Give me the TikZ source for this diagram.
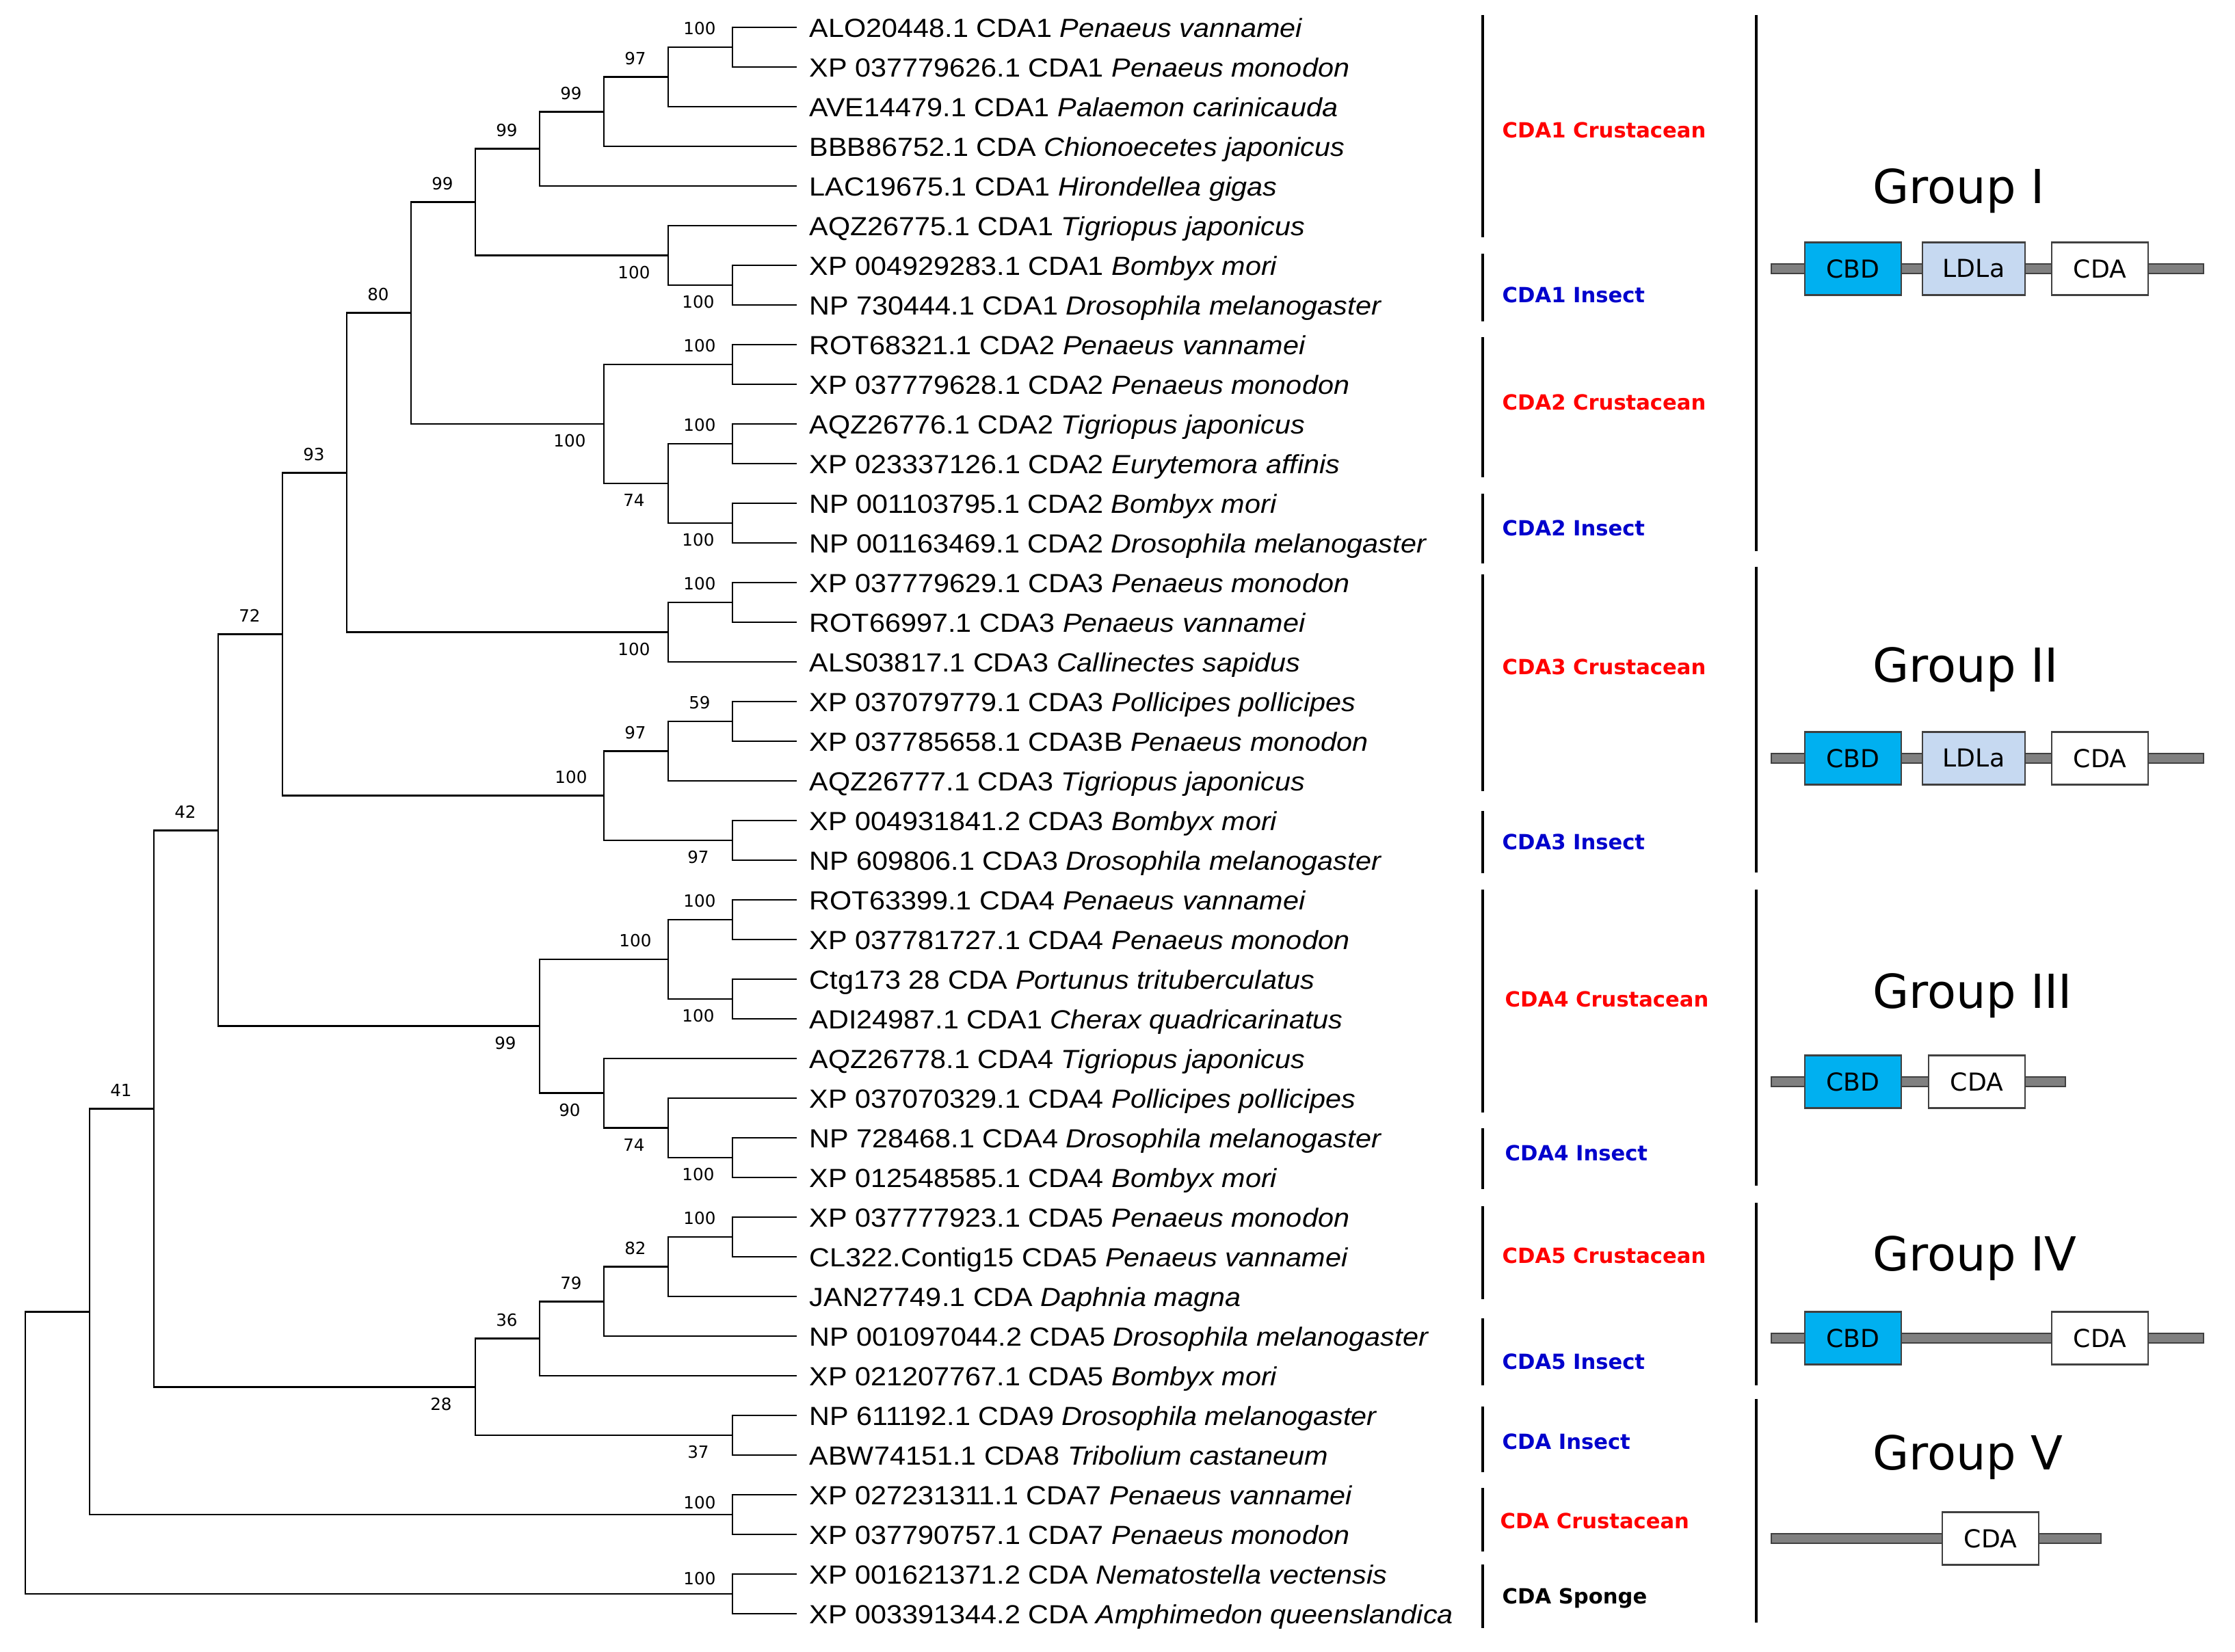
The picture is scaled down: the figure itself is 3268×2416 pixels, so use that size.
\documentclass[tikz,border=0pt]{standalone}
\usepackage{fontspec}
\setmainfont{DejaVu Sans}
\newfontfamily\leaffont[FakeStretch=1.08]{Liberation Sans}
\definecolor{cladered}{RGB}{255,0,0}
\definecolor{cladeblue}{RGB}{0,0,204}
\definecolor{cbdblue}{RGB}{0,176,240}
\definecolor{ldlablue}{RGB}{198,217,241}
\definecolor{bargray}{RGB}{128,128,128}
\definecolor{edgegray}{RGB}{64,64,64}
\tikzset{
  leaf/.style={anchor=west, inner xsep=0.18cm, inner ysep=0pt, text height=8.4pt, text depth=0pt, font=\leaffont\fontsize{10.9}{12}\selectfont},
  bsup/.style={font=\fontsize{7}{8}\selectfont, inner sep=0pt, xshift=-0.48cm, yshift=0.27cm},
  bsdown/.style={font=\fontsize{7}{8}\selectfont, inner sep=0pt, xshift=-0.50cm, yshift=-0.25cm},
  clade/.style={anchor=west, inner sep=0pt, font=\bfseries\fontsize{8.7}{10}\selectfont},
  grouplabel/.style={anchor=west, inner sep=0pt, font=\fontsize{19.5}{22}\selectfont},
  dom/.style={draw=edgegray, line width=0.8pt, minimum height=0.77cm, inner sep=0pt, font=\fontsize{10.3}{12}\selectfont},
  domline/.style={draw=edgegray, fill=bargray, line width=0.7pt},
  branch/.style={line width=0.8pt},
  bracket/.style={line width=1pt}
}
\begin{document}
\begin{tikzpicture}[x=0.01cm, y=-0.01cm]
  \useasboundingbox (0,0) rectangle (3268,2416);
  % leaves
  \foreach \i/\acc/\sp in {
      0/{ALO20448.1 CDA1}/{Penaeus vannamei},
      1/{XP 037779626.1 CDA1}/{Penaeus monodon},
      2/{AVE14479.1 CDA1}/{Palaemon carinicauda},
      3/{BBB86752.1 CDA}/{Chionoecetes japonicus},
      4/{LAC19675.1 CDA1}/{Hirondellea gigas},
      5/{AQZ26775.1 CDA1}/{Tigriopus japonicus},
      6/{XP 004929283.1 CDA1}/{Bombyx mori},
      7/{NP 730444.1 CDA1}/{Drosophila melanogaster},
      8/{ROT68321.1 CDA2}/{Penaeus vannamei},
      9/{XP 037779628.1 CDA2}/{Penaeus monodon},
      10/{AQZ26776.1 CDA2}/{Tigriopus japonicus},
      11/{XP 023337126.1 CDA2}/{Eurytemora affinis},
      12/{NP 001103795.1 CDA2}/{Bombyx mori},
      13/{NP 001163469.1 CDA2}/{Drosophila melanogaster},
      14/{XP 037779629.1 CDA3}/{Penaeus monodon},
      15/{ROT66997.1 CDA3}/{Penaeus vannamei},
      16/{ALS03817.1 CDA3}/{Callinectes sapidus},
      17/{XP 037079779.1 CDA3}/{Pollicipes pollicipes},
      18/{XP 037785658.1 CDA3B}/{Penaeus monodon},
      19/{AQZ26777.1 CDA3}/{Tigriopus japonicus},
      20/{XP 004931841.2 CDA3}/{Bombyx mori},
      21/{NP 609806.1 CDA3}/{Drosophila melanogaster},
      22/{ROT63399.1 CDA4}/{Penaeus vannamei},
      23/{XP 037781727.1 CDA4}/{Penaeus monodon},
      24/{Ctg173 28 CDA}/{Portunus trituberculatus},
      25/{ADI24987.1 CDA1}/{Cherax quadricarinatus},
      26/{AQZ26778.1 CDA4}/{Tigriopus japonicus},
      27/{XP 037070329.1 CDA4}/{Pollicipes pollicipes},
      28/{NP 728468.1 CDA4}/{Drosophila melanogaster},
      29/{XP 012548585.1 CDA4}/{Bombyx mori},
      30/{XP 037777923.1 CDA5}/{Penaeus monodon},
      31/{CL322.Contig15 CDA5}/{Penaeus vannamei},
      32/{JAN27749.1 CDA}/{Daphnia magna},
      33/{NP 001097044.2 CDA5}/{Drosophila melanogaster},
      34/{XP 021207767.1 CDA5}/{Bombyx mori},
      35/{NP 611192.1 CDA9}/{Drosophila melanogaster},
      36/{ABW74151.1 CDA8}/{Tribolium castaneum},
      37/{XP 027231311.1 CDA7}/{Penaeus vannamei},
      38/{XP 037790757.1 CDA7}/{Penaeus monodon},
      39/{XP 001621371.2 CDA}/{Nematostella vectensis},
      40/{XP 003391344.2 CDA}/{Amphimedon queenslandica}}
    \node[leaf] (l\i) at (1165,{40+58*\i}) {\acc{} \textit{\sp}};

  % inner nodes
  \coordinate (a1) at (1071,69);    \coordinate (a2) at (977,112.5);
  \coordinate (a3) at (883,163.3);  \coordinate (a4) at (789,217.6);
  \coordinate (a5) at (1071,417);   \coordinate (a6) at (977,373.5);
  \coordinate (a7) at (695,295.6);
  \coordinate (b1) at (1071,533);   \coordinate (b2) at (1071,649);
  \coordinate (b3) at (1071,765);   \coordinate (b4) at (977,707);
  \coordinate (b5) at (883,620);    \coordinate (c80) at (601,457.8);
  \coordinate (d1) at (1071,881);   \coordinate (d2) at (977,924.5);
  \coordinate (c93) at (507,691.2);
  \coordinate (d3) at (1071,1055);  \coordinate (d4) at (977,1098.5);
  \coordinate (d5) at (1071,1229);  \coordinate (d6) at (883,1163.8);
  \coordinate (c72) at (413,927.5);
  \coordinate (e1) at (1071,1345);  \coordinate (e2) at (1071,1461);
  \coordinate (e3) at (977,1403);   \coordinate (e4) at (1071,1693);
  \coordinate (e5) at (977,1649.5); \coordinate (e6) at (883,1598.8);
  \coordinate (e7) at (789,1500.9); \coordinate (c42) at (319,1214.2);
  \coordinate (f1) at (1071,1809);  \coordinate (f2) at (977,1852.5);
  \coordinate (f3) at (883,1903.3); \coordinate (f4) at (789,1957.6);
  \coordinate (f5) at (1071,2099);  \coordinate (f6) at (695,2028.3);
  \coordinate (c41) at (225,1621.3);
  \coordinate (g1) at (1071,2215);  \coordinate (c1) at (131,1918.2);
  \coordinate (h1) at (1071,2331);  \coordinate (root) at (37,2124.6);

  % branches
  \draw[branch] (l0.west) -| (a1) |- (l1.west);
  \draw[branch] (a1) -| (a2) |- (l2.west);
  \draw[branch] (a2) -| (a3) |- (l3.west);
  \draw[branch] (a3) -| (a4) |- (l4.west);
  \draw[branch] (l6.west) -| (a5) |- (l7.west);
  \draw[branch] (l5.west) -| (a6) |- (a5);
  \draw[branch] (a4) -| (a7) |- (a6);
  \draw[branch] (l8.west) -| (b1) |- (l9.west);
  \draw[branch] (l10.west) -| (b2) |- (l11.west);
  \draw[branch] (l12.west) -| (b3) |- (l13.west);
  \draw[branch] (b2) -| (b4) |- (b3);
  \draw[branch] (b1) -| (b5) |- (b4);
  \draw[branch] (a7) -| (c80) |- (b5);
  \draw[branch] (l14.west) -| (d1) |- (l15.west);
  \draw[branch] (d1) -| (d2) |- (l16.west);
  \draw[branch] (c80) -| (c93) |- (d2);
  \draw[branch] (l17.west) -| (d3) |- (l18.west);
  \draw[branch] (d3) -| (d4) |- (l19.west);
  \draw[branch] (l20.west) -| (d5) |- (l21.west);
  \draw[branch] (d4) -| (d6) |- (d5);
  \draw[branch] (c93) -| (c72) |- (d6);
  \draw[branch] (l22.west) -| (e1) |- (l23.west);
  \draw[branch] (l24.west) -| (e2) |- (l25.west);
  \draw[branch] (e1) -| (e3) |- (e2);
  \draw[branch] (l28.west) -| (e4) |- (l29.west);
  \draw[branch] (l27.west) -| (e5) |- (e4);
  \draw[branch] (l26.west) -| (e6) |- (e5);
  \draw[branch] (e3) -| (e7) |- (e6);
  \draw[branch] (c72) -| (c42) |- (e7);
  \draw[branch] (l30.west) -| (f1) |- (l31.west);
  \draw[branch] (f1) -| (f2) |- (l32.west);
  \draw[branch] (f2) -| (f3) |- (l33.west);
  \draw[branch] (f3) -| (f4) |- (l34.west);
  \draw[branch] (l35.west) -| (f5) |- (l36.west);
  \draw[branch] (f4) -| (f6) |- (f5);
  \draw[branch] (c42) -| (c41) |- (f6);
  \draw[branch] (l37.west) -| (g1) |- (l38.west);
  \draw[branch] (c41) -| (c1) |- (g1);
  \draw[branch] (l39.west) -| (h1) |- (l40.west);
  \draw[branch] (c1) -| (root) |- (h1);

  % bootstrap values
  \node[bsup] (s1) at (a1) {100};   \node[bsup] (s2) at (a2) {97};
  \node[bsup] (s3) at (a3) {99};    \node[bsup] (s4) at (a4) {99};
  \node[bsdown] (s5) at (a5) {100}; \node[bsdown] (s6) at (a6) {100};
  \node[bsup] (s7) at (a7) {99};
  \node[bsup] (s8) at (b1) {100};   \node[bsup] (s9) at (b2) {100};
  \node[bsdown] (s10) at (b3) {100}; \node[bsdown] (s11) at (b4) {74};
  \node[bsdown] (s12) at (b5) {100}; \node[bsup] (s13) at (c80) {80};
  \node[bsup] (s14) at (d1) {100};  \node[bsdown] (s15) at (d2) {100};
  \node[bsup] (s16) at (c93) {93};
  \node[bsup] (s17) at (d3) {59};   \node[bsup] (s18) at (d4) {97};
  \node[bsdown] (s19) at (d5) {97}; \node[bsup] (s20) at (d6) {100};
  \node[bsup] (s21) at (c72) {72};
  \node[bsup] (s22) at (e1) {100};  \node[bsdown] (s23) at (e2) {100};
  \node[bsup] (s24) at (e3) {100};  \node[bsdown] (s25) at (e4) {100};
  \node[bsdown] (s26) at (e5) {74}; \node[bsdown] (s27) at (e6) {90};
  \node[bsdown] (s28) at (e7) {99}; \node[bsup] (s29) at (c42) {42};
  \node[bsup] (s30) at (f1) {100};  \node[bsup] (s31) at (f2) {82};
  \node[bsup] (s32) at (f3) {79};   \node[bsup] (s33) at (f4) {36};
  \node[bsdown] (s34) at (f5) {37}; \node[bsdown] (s35) at (f6) {28};
  \node[bsup] (s36) at (c41) {41};
  \node[bsup, yshift=-0.1cm] (s37) at (g1) {100};
  \node[bsup, yshift=-0.05cm] (s38) at (h1) {100};

  % clade brackets and names
  \draw[bracket] (2168,22) -- (2168,347);    \draw[bracket] (2168,371) -- (2168,470);
  \draw[bracket] (2168,493) -- (2168,698);   \draw[bracket] (2168,722) -- (2168,824);
  \draw[bracket] (2168,840) -- (2168,1157);  \draw[bracket] (2168,1186) -- (2168,1277);
  \draw[bracket] (2168,1301) -- (2168,1627); \draw[bracket] (2168,1650) -- (2168,1739);
  \draw[bracket] (2168,1764) -- (2168,1900); \draw[bracket] (2168,1928) -- (2168,2026);
  \draw[bracket] (2168,2057) -- (2168,2153); \draw[bracket] (2168,2176) -- (2168,2269);
  \draw[bracket] (2168,2288) -- (2168,2381);
  \node[clade, cladered] (k1) at (2196,190) {CDA1 Crustacean};
  \node[clade, cladeblue] (k2) at (2196,431) {CDA1 Insect};
  \node[clade, cladered] (k3) at (2196,588) {CDA2 Crustacean};
  \node[clade, cladeblue] (k4) at (2196,772) {CDA2 Insect};
  \node[clade, cladered] (k5) at (2196,975) {CDA3 Crustacean};
  \node[clade, cladeblue] (k6) at (2196,1231) {CDA3 Insect};
  \node[clade, cladered] (k7) at (2200,1461) {CDA4 Crustacean};
  \node[clade, cladeblue] (k8) at (2200,1686) {CDA4 Insect};
  \node[clade, cladered] (k9) at (2196,1836) {CDA5 Crustacean};
  \node[clade, cladeblue] (k10) at (2196,1991) {CDA5 Insect};
  \node[clade, cladeblue] (k11) at (2196,2108) {CDA Insect};
  \node[clade, cladered] (k12) at (2193,2224) {CDA Crustacean};
  \node[clade] (k13) at (2196,2337) {CDA Sponge};

  % groups
  \draw[bracket] (2568,22) -- (2568,806);    \draw[bracket] (2568,829) -- (2568,1276);
  \draw[bracket] (2568,1301) -- (2568,1734); \draw[bracket] (2568,1759) -- (2568,2026);
  \draw[bracket] (2568,2046) -- (2568,2373);
  \node[grouplabel] (g1t) at (2738,279) {Group I};
  \node[grouplabel] (g2t) at (2738,979) {Group II};
  \node[grouplabel] (g3t) at (2738,1456) {Group III};
  \node[grouplabel] (g4t) at (2738,1840) {Group IV};
  \node[grouplabel] (g5t) at (2738,2131) {Group V};

  % domain structures
  \draw[domline] (2590,386) rectangle (3222,400);
  \node[dom, fill=cbdblue, minimum width=1.41cm] (cbd1) at (2709.5,393) {CBD};
  \node[dom, fill=ldlablue, minimum width=1.50cm] (ldl1) at (2886,393) {LDLa};
  \node[dom, fill=white, minimum width=1.41cm] (cda1) at (3070.5,393) {CDA};
  \draw[domline] (2590,1102) rectangle (3222,1116);
  \node[dom, fill=cbdblue, minimum width=1.41cm] (cbd2) at (2709.5,1109) {CBD};
  \node[dom, fill=ldlablue, minimum width=1.50cm] (ldl2) at (2886,1109) {LDLa};
  \node[dom, fill=white, minimum width=1.41cm] (cda2) at (3070.5,1109) {CDA};
  \draw[domline] (2590,1575) rectangle (3020,1589);
  \node[dom, fill=cbdblue, minimum width=1.41cm] (cbd3) at (2709.5,1582) {CBD};
  \node[dom, fill=white, minimum width=1.41cm] (cda3) at (2890.5,1582) {CDA};
  \draw[domline] (2590,1950) rectangle (3222,1964);
  \node[dom, fill=cbdblue, minimum width=1.41cm] (cbd4) at (2709.5,1957) {CBD};
  \node[dom, fill=white, minimum width=1.41cm] (cda4) at (3070.5,1957) {CDA};
  \draw[domline] (2590,2243) rectangle (3072,2257);
  \node[dom, fill=white, minimum width=1.41cm] (cda5) at (2910.5,2250) {CDA};
\end{tikzpicture}
\end{document}
